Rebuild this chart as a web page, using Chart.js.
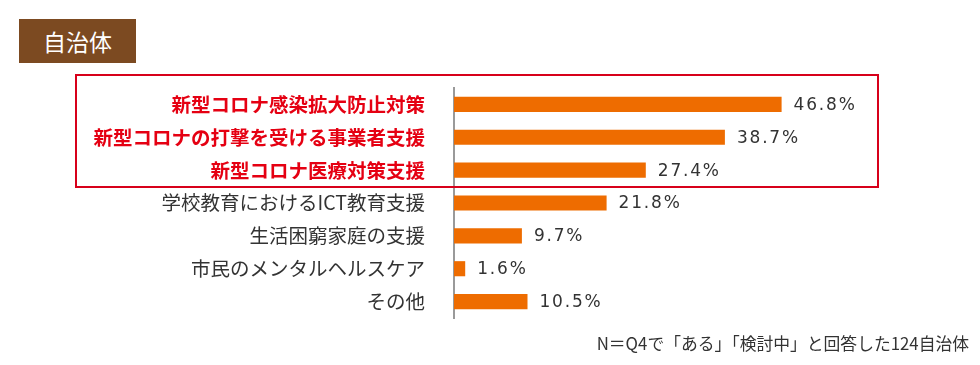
<!DOCTYPE html>
<html lang="ja">
<head>
<meta charset="utf-8">
<script src="https://cdn.jsdelivr.net/npm/chart.js@4"></script>
<style>
    body { margin: 0; background: #fff; }
    #wrap { position: relative; width: 980px; height: 365px; }
    #chart { position: absolute; left: 0; top: 0; }
    .tag {
        position: absolute; left: 19px; top: 19px; width: 117px; height: 44px;
        background: #7c4a21; color: #fff;
        font: 23px "Noto Sans CJK JP", sans-serif;
        display: flex; align-items: center; justify-content: center;
    }
    .frame {
        position: absolute; left: 75px; top: 74px; width: 800px; height: 110px;
        border: 2px solid #d7001a;
    }
    .note {
        position: absolute; right: 11px; top: 331px;
        font: 16.8px "Noto Sans CJK JP", sans-serif; color: #333;
    }
</style>
</head>
<body>
<div id="wrap">
    <canvas id="chart" width="980" height="365"></canvas>
    <div class="tag">自治体</div>
    <div class="frame"></div>
    <div class="note">N＝Q4で「ある」「検討中」と回答した124自治体</div>
</div>
<script>
// categories (top to bottom) and share of answers in %
const categories = [
    '新型コロナ感染拡大防止対策',
    '新型コロナの打撃を受ける事業者支援',
    '新型コロナ医療対策支援',
    '学校教育におけるICT教育支援',
    '生活困窮家庭の支援',
    '市民のメンタルヘルスケア',
    'その他'
];
const shares = [46.8, 38.7, 27.4, 21.8, 9.7, 1.6, 10.5];
const highlighted = [true, true, true, false, false, false, false];

/**
 * Draw the value text to the right of each bar
 */
const valueLabels = {
    id: 'valueLabels',
    afterDatasetsDraw(chart) {
        const ctx = chart.ctx;
        const meta = chart.getDatasetMeta(0);
        ctx.save();
        ctx.font = '17px "DejaVu Sans", Verdana, sans-serif';
        ctx.letterSpacing = '1.8px';
        ctx.fillStyle = '#333';
        ctx.textAlign = 'left';
        ctx.textBaseline = 'middle';
        meta.data.forEach((bar, i) => {
            ctx.fillText(shares[i].toFixed(1) + '%', bar.x + 12, bar.y + 1);
        });
        ctx.restore();
    }
};

new Chart(document.getElementById('chart'), {
    type: 'bar',
    data: {
        labels: categories,
        datasets: [{
            data: shares,
            backgroundColor: '#ee6c00',
            barPercentage: 0.46,
            categoryPercentage: 1
        }]
    },
    options: {
        indexAxis: 'y',
        responsive: false,
        animation: false,
        layout: { padding: { top: 88, bottom: 47, left: 0, right: 106 } },
        plugins: { legend: { display: false }, tooltip: { enabled: false } },
        scales: {
            x: { display: false, min: 0, max: 60 },
            y: {
                afterFit: (scale) => { scale.width = 454; },
                grid: { display: false, drawTicks: false },
                border: { display: true, color: '#9a9a9a', width: 2 },
                ticks: {
                    padding: 29,
                    color: (c) => highlighted[c.index] ? '#e50012' : '#333',
                    font: (c) => ({
                        family: '"Noto Sans CJK JP", sans-serif',
                        size: 19.5,
                        weight: highlighted[c.index] ? 'bold' : 'normal'
                    })
                }
            }
        }
    },
    plugins: [valueLabels]
});
</script>
</body>
</html>
